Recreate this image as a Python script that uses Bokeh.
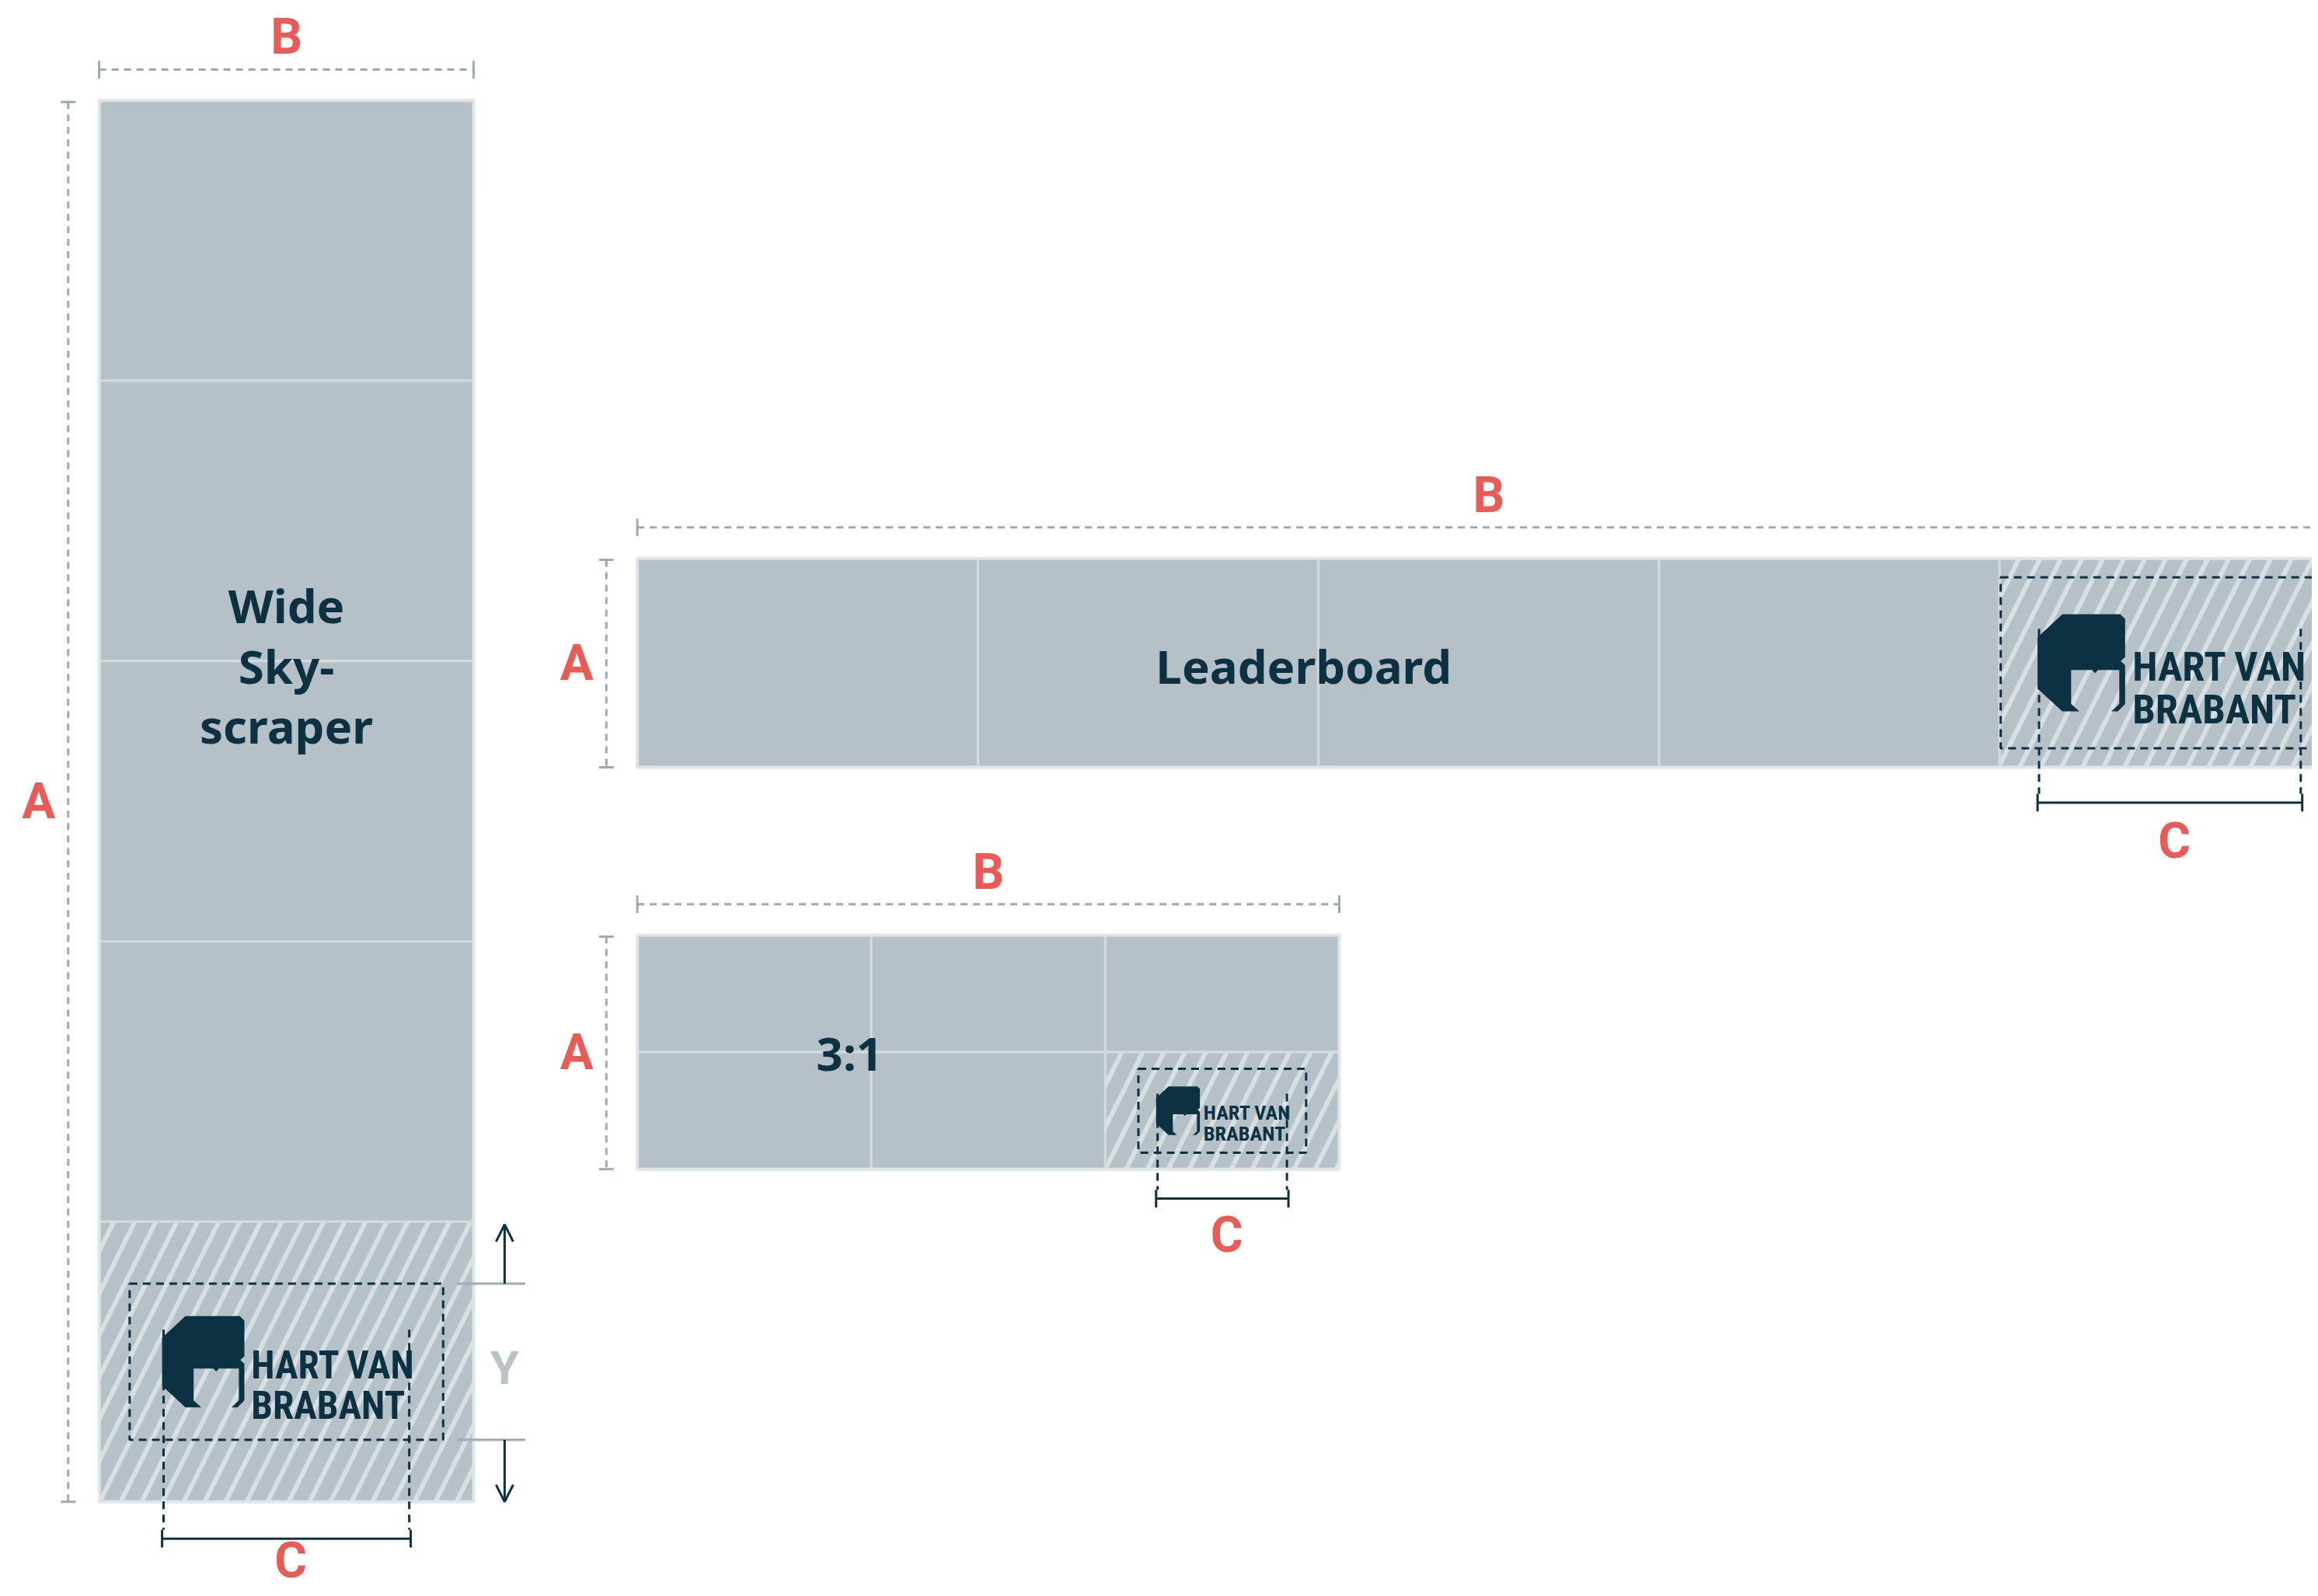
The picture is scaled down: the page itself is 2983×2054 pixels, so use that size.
from bokeh.plotting import figure
from bokeh.models import Range1d, ColumnDataSource, Arrow, OpenHead
from bokeh.core.properties import value
from bokeh.embed import file_html
from bokeh.resources import INLINE

# ---------------- data ----------------
format_names = ["Wide\nSky-\nscraper", "Leaderboard", "3:1"]
format_cols = [1, 5, 3]
format_rows = [5, 1, 2]
hatch_col = [0, 4, 2]
hatch_row = [4, 0, 1]
dim_labels = ["A", "B", "C"]
y_label = "Y"
logo_lines = ["HART VAN", "BRABANT"]

# ---------------- layout (reference display units) ----------------
box_left = [67, 432, 432]
box_top = [68, 379, 635]
cell_w = [254, 231, 158.7]
cell_h = [190.4, 142, 79.5]
label_x = [194, 884, 576]
label_y = [452, 452, 715]
logo_h = [62, 66, 33]
safe_margin = [22, 25, 12]
c_offset = [25, 24, 20]
c_label_off = [15, 26, 25]

navy = "#0b3142"
red = "#ea5b56"
box_fill = "#b5c1c7"
grid_line = "#d3dbdf"
border_line = "#dfe5e8"
hatch_color = "#d8dfe2"
dim_gray = "#9aabb1"
y_gray = "#b7c3c9"

W, H = 2975, 2046
VW, VH = 1568, 1080
k = W / VW
p = figure(width=W, height=H, x_range=Range1d(0, VW), y_range=Range1d(VH, 0),
           output_backend="svg", toolbar_location=None, min_border=0,
           x_axis_type=None, y_axis_type=None, outline_line_color=None,
           background_fill_color="white", border_fill_color="white")
p.grid.visible = False

# icon shape, normalised to logo height (x right, y down)
icon_u = [0.255, 0.849, 0.9, 0.9, 0.855, 0.9, 0.9, 0.825, 0.759, 0.84, 0.84, 0.621, 0.591,
          0.561, 0.345, 0.345, 0.429, 0.255, 0.0, 0.0]
icon_v = [0.0, 0.0, 0.048, 0.44, 0.482, 0.524, 0.924, 1.0, 1.0, 0.924, 0.574, 0.574, 0.608,
          0.574, 0.574, 0.924, 1.0, 1.0, 0.765, 0.238]
logo_w = 2.72

cells = dict(left=[], right=[], top=[], bottom=[])
hcells = dict(left=[], right=[], top=[], bottom=[])
outer = dict(left=[], right=[], top=[], bottom=[])
gray_dash = dict(x0=[], y0=[], x1=[], y1=[])
gray_tick = dict(x0=[], y0=[], x1=[], y1=[])
navy_solid = dict(x0=[], y0=[], x1=[], y1=[])
navy_dash = dict(x0=[], y0=[], x1=[], y1=[])
safe = dict(left=[], right=[], top=[], bottom=[])
red_txt = dict(x=[], y=[], t=[])
main_txt = dict(x=[], y=[], t=[])
icons = dict(xs=[], ys=[])
logo_txt = dict(x=[], y=[], t=[], fs=[])

def seg(d, a, b, c, e):
    d["x0"].append(a); d["y0"].append(b); d["x1"].append(c); d["y1"].append(e)

def rect(d, l, r, t, b):
    d["left"].append(l); d["right"].append(r); d["top"].append(t); d["bottom"].append(b)

for i in range(3):
    L, T = box_left[i], box_top[i]
    R = L + format_cols[i] * cell_w[i]
    B = T + format_rows[i] * cell_h[i]
    for r in range(format_rows[i]):
        for c in range(format_cols[i]):
            l = L + c * cell_w[i]; t = T + r * cell_h[i]
            target = hcells if (r == hatch_row[i] and c == hatch_col[i]) else cells
            rect(target, l, l + cell_w[i], t, t + cell_h[i])
    rect(outer, L, R, T, B)

    # main label
    lines = format_names[i].split("\n")
    n = len(lines)
    for j, s in enumerate(lines):
        main_txt["x"].append(label_x[i]); main_txt["y"].append(label_y[i] + (j - (n - 1) / 2) * 41)
        main_txt["t"].append(s)

    # B dimension
    by = T - 21
    seg(gray_dash, L, by, R, by)
    seg(gray_tick, L, by - 6, L, by + 6); seg(gray_tick, R, by - 6, R, by + 6)
    red_txt["x"].append((L + R) / 2); red_txt["y"].append(by - 22); red_txt["t"].append(dim_labels[1])
    # A dimension
    ax = L - 21
    seg(gray_dash, ax, T + 1, ax, B)
    seg(gray_tick, ax - 5, T + 1, ax + 5, T + 1); seg(gray_tick, ax - 5, B, ax + 5, B)
    red_txt["x"].append(ax - 20); red_txt["y"].append((T + B) / 2); red_txt["t"].append(dim_labels[0])

    # logo
    hl = L + hatch_col[i] * cell_w[i]; ht = T + hatch_row[i] * cell_h[i]
    cx = hl + cell_w[i] / 2; cy = ht + cell_h[i] / 2
    h = logo_h[i]
    il = cx - logo_w * h / 2; it = cy - h / 2
    icons["xs"].append([il + u * h for u in icon_u])
    icons["ys"].append([it + v * h for v in icon_v])
    fs = 0.42 * h
    for j, s in enumerate(logo_lines):
        logo_txt["x"].append(il + 0.975 * h)
        logo_txt["y"].append(it + (0.54 if j == 0 else 0.98) * h)
        logo_txt["t"].append(s)
        logo_txt["fs"].append(f"{fs * k:.1f}px")
    m = safe_margin[i]
    rect(safe, il - m, il + logo_w * h + m, it - m, it + h + m)

    # C dimension
    cyy = B + c_offset[i]
    seg(navy_solid, il, cyy, il + logo_w * h, cyy)
    seg(navy_solid, il, cyy - 6, il, cyy + 6)
    seg(navy_solid, il + logo_w * h, cyy - 6, il + logo_w * h, cyy + 6)
    seg(navy_dash, il + 1, it + 0.15 * h, il + 1, cyy - 6)
    seg(navy_dash, il + logo_w * h - 1, it + 0.15 * h, il + logo_w * h - 1, cyy - 6)
    red_txt["x"].append(il + logo_w * h / 2 + 3); red_txt["y"].append(cyy + c_label_off[i])
    red_txt["t"].append(dim_labels[2])

    if i == 0:
        st, sb = it - m, it + h + m
        yx = R + 21
        seg(gray_tick, R - 11, st, R + 35, st)
        seg(gray_tick, R - 11, sb, R + 35, sb)
        p.add_layout(Arrow(end=OpenHead(size=22, line_color=navy, line_width=3),
                           x_start=yx, y_start=st, x_end=yx, y_end=ht + 2,
                           line_color=navy, line_width=3))
        p.add_layout(Arrow(end=OpenHead(size=22, line_color=navy, line_width=3),
                           x_start=yx, y_start=sb, x_end=yx, y_end=B,
                           line_color=navy, line_width=3))
        p.text(x=[yx], y=[(st + sb) / 2 + 4], text=[y_label], text_color=y_gray,
               text_font=value("Roboto"), text_font_style="bold", text_font_size="60px",
               text_align="center", text_baseline="middle")

p.quad(source=ColumnDataSource(cells), left="left", right="right", top="top", bottom="bottom",
       fill_color=box_fill, line_color=grid_line, line_width=3)
p.quad(source=ColumnDataSource(hcells), left="left", right="right", top="top", bottom="bottom",
       fill_color=box_fill, hatch_pattern="/", hatch_color=hatch_color, hatch_weight=6,
       hatch_scale=54, line_color=grid_line, line_width=3)
p.quad(source=ColumnDataSource(outer), left="left", right="right", top="top", bottom="bottom",
       fill_color=None, line_color=border_line, line_width=4)

p.segment(source=ColumnDataSource(gray_dash), x0="x0", y0="y0", x1="x1", y1="y1",
          line_color=dim_gray, line_width=3, line_dash="9 7")
p.segment(source=ColumnDataSource(gray_tick), x0="x0", y0="y0", x1="x1", y1="y1",
          line_color=dim_gray, line_width=3)
p.quad(source=ColumnDataSource(safe), left="left", right="right", top="top", bottom="bottom",
       fill_color=None, line_color=navy, line_width=3, line_dash="10 7")
p.segment(source=ColumnDataSource(navy_dash), x0="x0", y0="y0", x1="x1", y1="y1",
          line_color=navy, line_width=3, line_dash="10 7")
p.segment(source=ColumnDataSource(navy_solid), x0="x0", y0="y0", x1="x1", y1="y1",
          line_color=navy, line_width=3)

p.patches(source=ColumnDataSource(icons), xs="xs", ys="ys", fill_color=navy, line_color=None)
p.text(source=ColumnDataSource(logo_txt), x="x", y="y", text="t", text_font_size="fs",
       text_color=navy, text_font=value("'Roboto Condensed', Roboto, sans-serif"),
       text_font_style="bold", text_align="left", text_baseline="alphabetic")

p.text(source=ColumnDataSource(main_txt), x="x", y="y", text="t", text_color=navy,
       text_font=value("Noto Sans"), text_font_style="bold", text_font_size="60px",
       text_align="center", text_baseline="middle")
p.text(source=ColumnDataSource(red_txt), x="x", y="y", text="t", text_color=red,
       text_font=value("Roboto"), text_font_style="bold", text_font_size="64px",
       text_align="center", text_baseline="middle")

open("out.html", "w").write(file_html(p, INLINE))
